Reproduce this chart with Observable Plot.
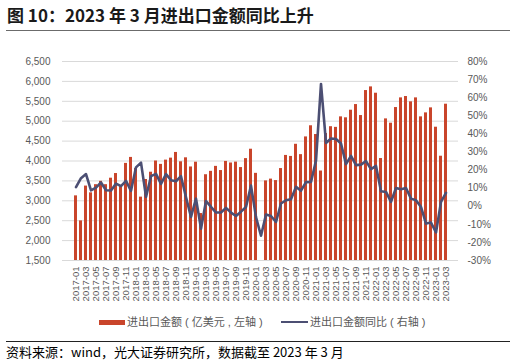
<!DOCTYPE html>
<html><head><meta charset="utf-8">
<script src="https://cdn.jsdelivr.net/npm/d3@7"></script>
<script src="https://cdn.jsdelivr.net/npm/@observablehq/plot@0.6"></script>
<style>
body{margin:0;width:516px;height:363px;position:relative;background:#fff;overflow:hidden;font-family:"Liberation Sans","Noto Sans CJK SC",sans-serif}
#title{position:absolute;left:7px;top:3px;font-weight:bold;font-size:17px;line-height:24px;font-family:"Noto Sans CJK SC",sans-serif;color:#1a1a1a;white-space:nowrap}
#rule1{position:absolute;left:6px;top:30px;width:504px;height:0;border-top:1.5px solid #6b6b6b}
#chart{position:absolute;left:0;top:36px}
.lg{position:absolute;top:314px;height:16px;line-height:16px;font-size:11px;color:#595959;white-space:nowrap;font-family:"Liberation Sans","Noto Sans CJK SC",sans-serif}
.sw{position:absolute}
#rule2{position:absolute;left:6px;top:341px;width:504px;height:0;border-top:1px solid #222}
#src{position:absolute;left:6px;top:343px;height:18px;line-height:18px;font-size:13px;color:#000;white-space:nowrap;font-family:"Noto Sans CJK SC",sans-serif}
</style>
</head><body>
<div id="title">图 10：2023 年 3 月进出口金额同比上升</div>
<div id="rule1"></div>
<div id="chart"></div>
<div class="sw" style="left:99px;top:319.5px;width:26px;height:5px;background:#c9452b"></div>
<div class="lg" style="left:127px">进出口金额 ( 亿美元 , 左轴 )</div>
<div class="sw" style="left:281px;top:320.5px;width:27px;height:2.6px;background:#4c4f73"></div>
<div class="lg" style="left:310px">进出口金额同比 ( 右轴 )</div>
<div id="rule2"></div>
<div id="src">资料来源：wind，光大证券研究所，数据截至 2023 年 3 月</div>
<script>
const months = [
 "2017-01","2017-02","2017-03","2017-04","2017-05","2017-06","2017-07","2017-08","2017-09","2017-10","2017-11","2017-12",
 "2018-01","2018-02","2018-03","2018-04","2018-05","2018-06","2018-07","2018-08","2018-09","2018-10","2018-11","2018-12",
 "2019-01","2019-02","2019-03","2019-04","2019-05","2019-06","2019-07","2019-08","2019-09","2019-10","2019-11","2019-12",
 "2020-01","2020-02","2020-03","2020-04","2020-05","2020-06","2020-07","2020-08","2020-09","2020-10","2020-11","2020-12",
 "2021-01","2021-02","2021-03","2021-04","2021-05","2021-06","2021-07","2021-08","2021-09","2021-10","2021-11","2021-12",
 "2022-01","2022-02","2022-03","2022-04","2022-05","2022-06","2022-07","2022-08","2022-09","2022-10","2022-11","2022-12",
 "2023-01","2023-02","2023-03"];
// 进出口金额（亿美元）
const tradeValue = [
 3124,2495,3370,3200,3405,3490,3405,3568,3685,3370,3940,4090,
 3810,3092,3535,3718,4000,3915,4022,4072,4215,3980,4080,3850,
 3970,2680,3655,3740,3865,3760,3990,3950,3972,3835,4060,4296,
 3690,null,3500,3545,3508,3810,4140,4115,4420,4160,4605,4885,
 4665,3748,4690,4862,4845,5109,5085,5276,5418,5142,5770,5862,
 5703,4062,5058,4950,5343,5586,5620,5486,5586,5109,5209,5335,
 4849,4120,5427];
// 进出口金额同比（%）
const tradeYoY = [
 10.6,15.5,17.8,8.8,10.3,13.1,8.8,8.7,12.5,11.1,14.0,8.5,
 21.5,24.1,5.2,16.6,17.9,12.4,17.7,14.4,13.8,16.6,5.0,-5.9,
 4.2,-12.4,2.9,-0.4,-3.5,-3.5,-0.9,-3.5,-5.4,-3.0,-0.4,11.4,
 -6.0,-16.3,-4.6,-5.4,-8.7,1.5,3.3,3.9,10.7,8.6,13.3,13.4,
 25.2,67.6,35.0,37.4,37.2,34.7,23.3,27.8,22.7,23.0,24.9,20.5,
 22.3,8.3,7.9,2.4,10.1,9.4,10.1,4.2,3.3,-0.4,-9.6,-9.0,
 -14.5,2.4,7.4];
const leftTicks = [1500,2000,2500,3000,3500,4000,4500,5000,5500,6000,6500];
const rightTicks = [-30,-20,-10,0,10,20,30,40,50,60,70,80];
const xTickLabels = months.filter((m,i)=>i%2===0);

const L0=1500, L1=6500, R0=-30, R1=80;
const toLeft = p => L0 + (p - R0) * (L1 - L0) / (R1 - R0);
const fromLeft = v => R0 + (v - L0) * (R1 - R0) / (L1 - L0);

const data = months.map((m,i)=>({month:m, v:tradeValue[i], p:tradeYoY[i]}));
const fmt = d3.format(",");

const chart = Plot.plot({
  width:516, height:280,
  marginTop:25, marginBottom:56, marginLeft:62, marginRight:58,
  style:{fontFamily:"'Liberation Sans', Arial, sans-serif", fontSize:"10px", color:"#595959", background:"#fff"},
  x:{type:"band", domain:months, paddingInner:0.4, paddingOuter:0.135},
  y:{domain:[L0,L1]},
  marks:[
    Plot.ruleY(leftTicks,{stroke:"#d9d9d9", strokeWidth:1}),
    Plot.barY(data.filter(d=>d.v!=null),{x:"month", y1:L0, y2:"v", fill:"#c9452b"}),
    Plot.line(data,{x:"month", y:d=>toLeft(d.p), stroke:"#4c4f73", strokeWidth:2.6, strokeLinejoin:"round"}),
    Plot.axisY({anchor:"left", ticks:leftTicks, tickFormat:fmt, tickSize:0, tickPadding:12, label:null, fontSize:10}),
    Plot.axisY({anchor:"right", ticks:rightTicks.map(toLeft), tickFormat:v=>Math.round(fromLeft(v))+"%", tickSize:0, tickPadding:9, label:null, fontSize:10}),
    Plot.axisX({ticks:xTickLabels, tickRotate:-90, tickSize:0, tickPadding:6, label:null, fontSize:9.5})
  ]
});
document.getElementById("chart").appendChild(chart);
</script>
</body></html>
